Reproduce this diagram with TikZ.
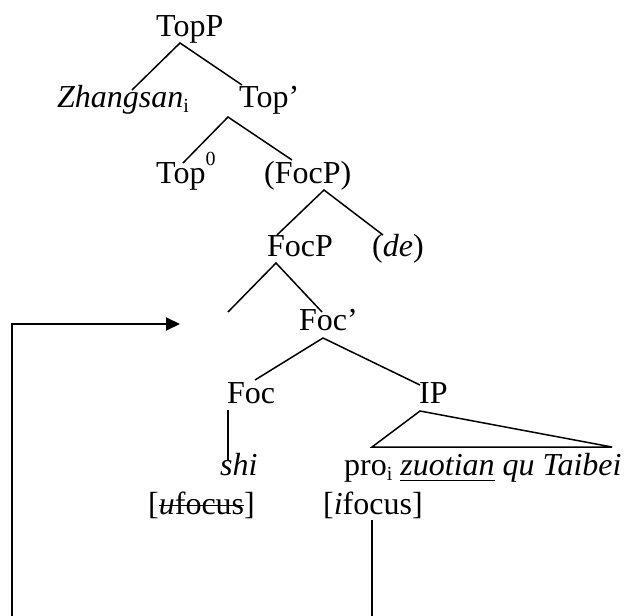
\documentclass[tikz,border=0pt]{standalone}
\usepackage{fontspec}
\setmainfont{Liberation Serif}
\usetikzlibrary{arrows.meta}
\newcommand\strk[1]{\setbox0\hbox{#1}\rlap{\rule[0.24em]{\wd0}{0.055em}}\box0\relax}
\newcommand\uln[1]{\setbox0\hbox{#1}\rlap{\rule[-0.2em]{\wd0}{0.055em}}\box0\relax}
\newcommand\subx[1]{\raisebox{-0.16em}{\fontsize{20}{20}\selectfont #1}}
\newcommand\supx[1]{\raisebox{0.55em}{\fontsize{20}{20}\selectfont #1}}
\begin{document}
\begin{tikzpicture}[x=1pt,y=-1pt,
  lbl/.style={inner sep=0pt, anchor=base west, font=\fontsize{32}{38}\selectfont},
  br/.style={line width=1.5pt},
  vl/.style={line width=2pt}]
\useasboundingbox (0,0) rectangle (630,616);
% labels
\node[lbl] (topp) at (156,36) {TopP};
\node[lbl] (zs) at (57,107) {\textit{Zhangsan}\subx{i}};
\node[lbl] (topbar) at (239,107) {Top’};
\node[lbl] (top0) at (156,183) {Top\supx{0}};
\node[lbl] (focpp) at (264,183) {(FocP)};
\node[lbl] (focp) at (267,256) {FocP};
\node[lbl] (de) at (372,256) {(\textit{de})};
\node[lbl] (focbar) at (299,330) {Foc’};
\node[lbl] (foc) at (227,403) {Foc};
\node[lbl] (ip) at (419,403) {IP};
\node[lbl] (shi) at (220,475) {\textit{shi}};
\node[lbl] (pro) at (344,475) {pro\subx{i} \uln{\textit{zuotian}} \textit{qu Taibei}};
\node[lbl] (uf) at (148,514) {[\strk{\textit{u}focus}]};
\node[lbl] (if) at (323,514) {[\textit{i}focus]};
% branch points
\coordinate (a1) at (180,43); \coordinate (z1) at (132,90); \coordinate (t1) at (242,85);
\coordinate (a2) at (228,117); \coordinate (t0) at (183,163); \coordinate (fp1) at (292,160);
\coordinate (a3) at (324,190); \coordinate (fp2) at (277,235); \coordinate (de1) at (383,235);
\coordinate (a4) at (276,263); \coordinate (e1) at (228,312); \coordinate (fb1) at (322,312);
\coordinate (a5) at (323,338); \coordinate (f1) at (255,380); \coordinate (ip1) at (420,385);
\coordinate (s0) at (228,410); \coordinate (s1) at (228,460);
\coordinate (ta) at (420,411); \coordinate (tl) at (372,447); \coordinate (tr) at (612,447);
\coordinate (ar0) at (12,616); \coordinate (ar1) at (12,324); \coordinate (ar2) at (180,324);
\coordinate (if0) at (372,520); \coordinate (if1) at (372,616);
% branches
\draw[br] (z1) -- (a1) -- (t1);
\draw[br] (t0) -- (a2) -- (fp1);
\draw[br] (fp2) -- (a3) -- (de1);
\draw[br] (e1) -- (a4) -- (fb1);
\draw[br] (f1) -- (a5) -- (ip1);
\draw[vl] (s0) -- (s1);
\draw[br] (ta) -- (tl) -- (tr) -- cycle;
\draw[vl,-{Triangle[length=14pt,width=13pt]}] (ar0) -- (ar1) -- (ar2);
\draw[vl] (if0) -- (if1);
\end{tikzpicture}
\end{document}
